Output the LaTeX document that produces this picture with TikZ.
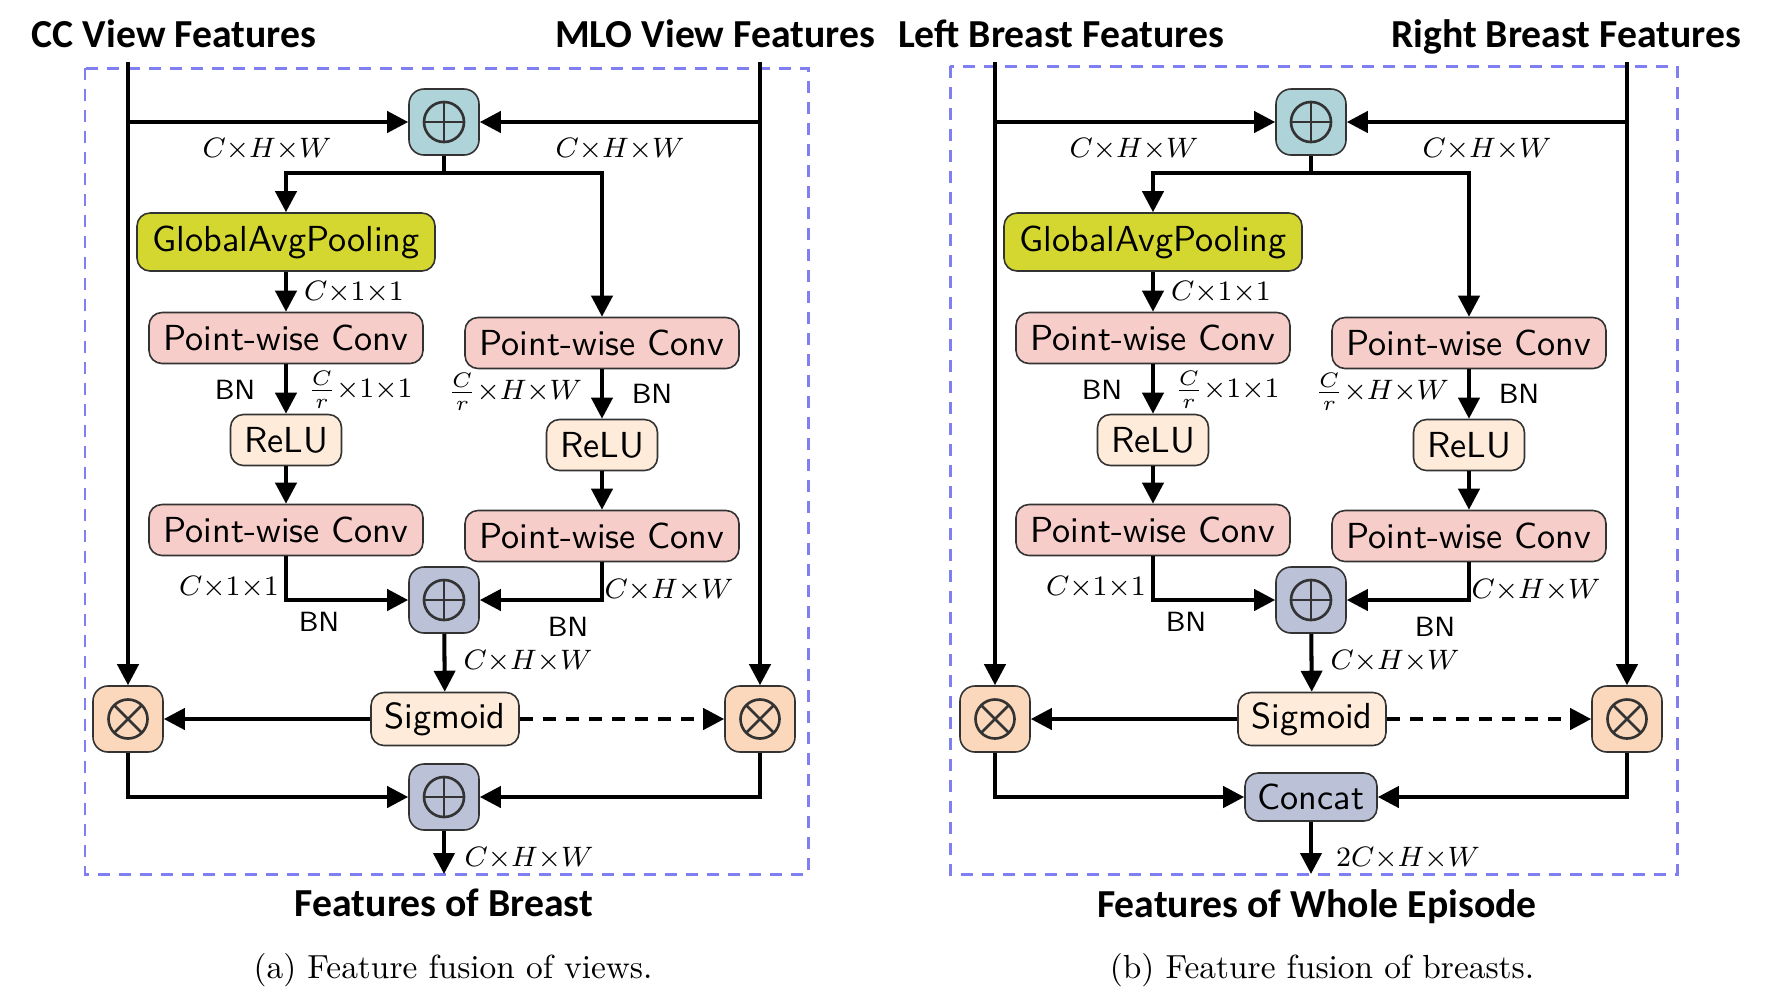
\documentclass[tikz,border=0pt]{standalone}
\usepackage{fontspec}
\newfontfamily\titlefont{Carlito}
\usetikzlibrary{arrows.meta}
\definecolor{plusA}{HTML}{AED3D8}
\definecolor{plusB}{HTML}{BBC2D8}
\definecolor{timesC}{HTML}{FBD8BC}
\definecolor{beigeC}{HTML}{FEEBD9}
\definecolor{pinkC}{HTML}{F6CDC9}
\definecolor{gapC}{HTML}{D4D730}
\definecolor{frameC}{HTML}{7F7FF2}
\definecolor{edgeC}{HTML}{333333}
\newcommand\CHW{$C{\times}H{\times}W$}
\newcommand\Cone{$C{\times}1{\times}1$}
\tikzset{
  blk/.style={draw=edgeC, line width=0.45pt, rounded corners=1.3mm, inner sep=0pt,
    align=center, font=\fontsize{10.3}{12}\selectfont\sffamily},
  opbox/.style={blk, minimum width=7mm, minimum height=6.6mm, rounded corners=1.5mm},
  oplus/.style={opbox, path picture={
      \draw[line width=0.75pt] (path picture bounding box.center) circle[radius=2mm];
      \draw[line width=0.75pt] ([xshift=-2mm]path picture bounding box.center) -- ([xshift=2mm]path picture bounding box.center);
      \draw[line width=0.75pt] ([yshift=-2mm]path picture bounding box.center) -- ([yshift=2mm]path picture bounding box.center);}},
  otimes/.style={opbox, fill=timesC, path picture={
      \draw[line width=0.75pt] (path picture bounding box.center) circle[radius=1.95mm];
      \draw[line width=0.75pt] ([shift={(-1.38mm,-1.38mm)}]path picture bounding box.center) -- ([shift={(1.38mm,1.38mm)}]path picture bounding box.center);
      \draw[line width=0.75pt] ([shift={(-1.38mm,1.38mm)}]path picture bounding box.center) -- ([shift={(1.38mm,-1.38mm)}]path picture bounding box.center);}},
  gapbox/.style={blk, fill=gapC, minimum width=29.8mm, minimum height=5.8mm},
  pwc/.style={blk, fill=pinkC, minimum width=27.4mm, minimum height=5.1mm},
  relubox/.style={blk, fill=beigeC, minimum width=11.1mm, minimum height=5.1mm},
  sigbox/.style={blk, fill=beigeC, minimum width=14.8mm, minimum height=5.3mm},
  catbox/.style={blk, fill=plusB, minimum width=13.2mm, minimum height=4.8mm},
  arr/.style={line width=1.15pt, -{Triangle[length=2.1mm,width=2.1mm]}},
  ln/.style={line width=1.15pt},
  lab/.style={font=\fontsize{8.3}{10}\selectfont, inner sep=0pt},
  bnlab/.style={font=\fontsize{7.9}{10}\selectfont\sffamily, inner sep=0pt},
  ttl/.style={font=\fontsize{11.3}{13}\selectfont\titlefont\bfseries, inner sep=0pt, anchor=base},
  captxt/.style={font=\fontsize{9.5}{11}\selectfont, inner sep=0pt},
  frame/.style={draw=frameC, line width=0.85pt, dash pattern=on 1.2mm off 0.9mm},
}
\newcommand\fusionpanel[1]{%
  \node[oplus, fill=plusA] (#1top) at (444,122) {};
  \node[gapbox] (#1gap) at (286,242) {GlobalAvgPooling};
  \node[pwc] (#1pwlA) at (286,338) {Point-wise Conv};
  \node[relubox] (#1reluL) at (286,440) {ReLU};
  \node[pwc] (#1pwlB) at (286,530) {Point-wise Conv};
  \node[pwc] (#1pwrA) at (602,343) {Point-wise Conv};
  \node[relubox] (#1reluR) at (602,445) {ReLU};
  \node[pwc] (#1pwrB) at (602,536) {Point-wise Conv};
  \node[oplus, fill=plusB] (#1mid) at (444,600) {};
  \node[sigbox] (#1sig) at (445,719) {Sigmoid};
  \node[otimes] (#1otL) at (128,719) {};
  \node[otimes] (#1otR) at (760,719) {};
  \coordinate (#1inL) at (128,62);
  \coordinate (#1inR) at (760,62);
  \coordinate (#1sp) at (444,173);
  \coordinate (#1out) at (444,874);
  % connectors
  \draw[arr] (#1inL) -- (#1otL.north);
  \draw[arr] (#1inR) -- (#1otR.north);
  \draw[arr] (#1inL |- #1top) -- (#1top.west);
  \draw[arr] (#1inR |- #1top) -- (#1top.east);
  \draw[ln] (#1top.south) -- (#1sp);
  \draw[arr] (#1sp) -| (#1gap.north);
  \draw[arr] (#1sp) -| (#1pwrA.north);
  \draw[arr] (#1gap) -- (#1pwlA);
  \draw[arr] (#1pwlA) -- (#1reluL);
  \draw[arr] (#1reluL) -- (#1pwlB);
  \draw[arr] (#1pwrA) -- (#1reluR);
  \draw[arr] (#1reluR) -- (#1pwrB);
  \draw[arr] (#1pwlB.south) |- (#1mid.west);
  \draw[arr] (#1pwrB.south) |- (#1mid.east);
  \draw[arr] (#1mid) -- (#1sig);
  \draw[arr] (#1sig.west) -- (#1otL.east);
  \draw[arr, dash pattern=on 1.3mm off 1.0mm] (#1sig.east) -- (#1otR.west);
  % labels
  \node[lab] (#1lA) at (267,149) {\CHW};
  \node[lab] (#1lB) at (620,149) {\CHW};
  \node[lab] (#1lC) at (354,292) {\Cone};
  \node[bnlab] (#1bnA) at (235,390) {BN};
  \node[lab] (#1lD) at (360,390) {$\frac{C}{r}{\times}1{\times}1$};
  \node[lab] (#1lE) at (515,392) {$\frac{C}{r}{\times}H{\times}W$};
  \node[bnlab] (#1bnB) at (652,394) {BN};
  \node[lab] (#1lF) at (229,587) {\Cone};
  \node[bnlab] (#1bnC) at (319,622) {BN};
  \node[lab] (#1lG) at (669,590) {\CHW};
  \node[bnlab] (#1bnD) at (568,627) {BN};
  \node[lab] (#1lH) at (528,661) {\CHW};
}
\begin{document}
\begin{tikzpicture}[x=0.1mm, y=-0.1mm]
\useasboundingbox (0,0) rectangle (1765,1000);
% panel (a)
\draw[frame] (85,68) rectangle (808,874);
\fusionpanel{a}
\node[oplus, fill=plusB] (abot) at (444,797) {};
\draw[arr] (aotL.south) |- (abot.west);
\draw[arr] (aotR.south) |- (abot.east);
\draw[arr] (abot.south) -- (aout);
\node[lab] (aoutlab) at (529,858) {\CHW};
\node[ttl] (tCC) at (174,47) {CC View Features};
\node[ttl] (tMLO) at (715,47) {MLO View Features};
\node[ttl] (tFB) at (444,916) {Features of Breast};
\node[captxt] (capA) at (453,970) {(a) Feature fusion of views.};
% panel (b)
\draw[frame] (950,66) rectangle (1677,874);
\begin{scope}[xshift=86.7mm]
\fusionpanel{b}
\node[catbox] (bcat) at (444,797) {Concat};
\draw[arr] (botL.south) |- (bcat.west);
\draw[arr] (botR.south) |- (bcat.east);
\draw[arr] (bcat.south) -- (bout);
\node[lab] (boutlab) at (541,858) {$2C{\times}H{\times}W$};
\end{scope}
\node[ttl] (tLB) at (1061,47) {Left Breast Features};
\node[ttl] (tRB) at (1566,47) {Right Breast Features};
\node[ttl] (tWE) at (1317,917) {Features of Whole Episode};
\node[captxt] (capB) at (1322,970) {(b) Feature fusion of breasts.};
\end{tikzpicture}
\end{document}
